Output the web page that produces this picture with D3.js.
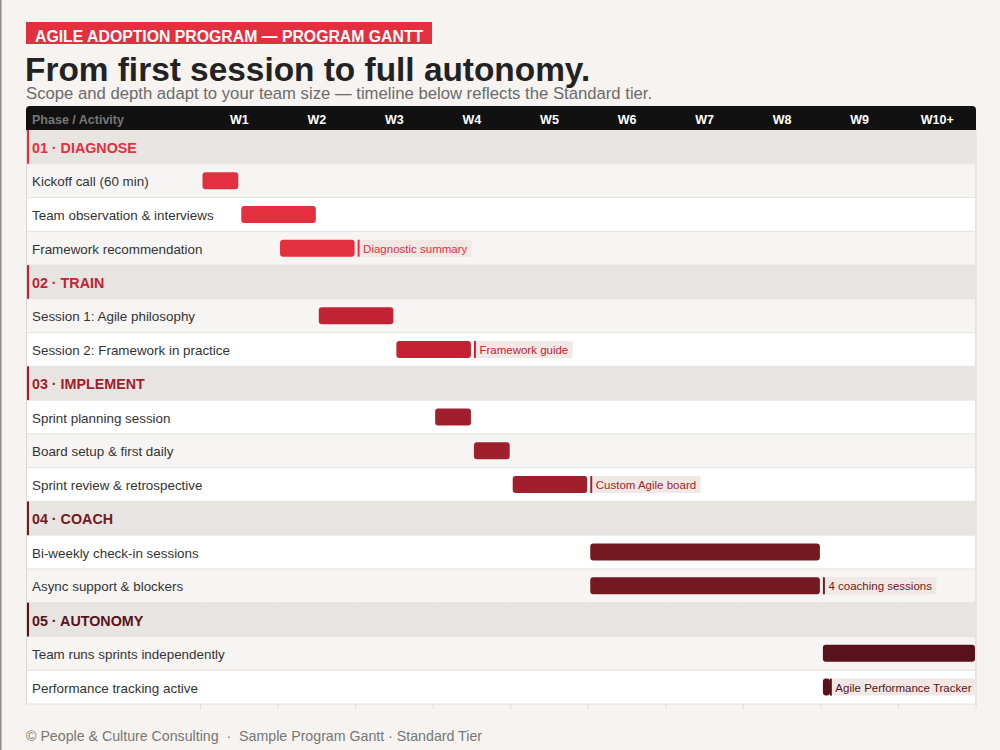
<!DOCTYPE html>
<html>
<head>
<meta charset="utf-8">
<script src="https://cdn.jsdelivr.net/npm/d3@7"></script>
<style>
  html, body { margin: 0; padding: 0; background: #f6f3f0; }
  body { font-family: "Liberation Sans", Arial, sans-serif; }
  svg { display: block; }
</style>
</head>
<body>
<svg id="chart" width="1000" height="750"></svg>
<script>
var weeks = ["W1", "W2", "W3", "W4", "W5", "W6", "W7", "W8", "W9", "W10+"];
var phases = ["01 · DIAGNOSE", "02 · TRAIN", "03 · IMPLEMENT", "04 · COACH", "05 · AUTONOMY"];
var phaseColors = ["#e3303f", "#c22334", "#9f1f2d", "#741920", "#5a121a"];

var activities = [
    "Kickoff call (60 min)",
    "Team observation & interviews",
    "Framework recommendation",
    "Session 1: Agile philosophy",
    "Session 2: Framework in practice",
    "Sprint planning session",
    "Board setup & first daily",
    "Sprint review & retrospective",
    "Bi-weekly check-in sessions",
    "Async support & blockers",
    "Team runs sprints independently",
    "Performance tracking active"
];
var activityPhase = [0, 0, 0, 1, 1, 2, 2, 2, 3, 3, 4, 4];
// start / end in weeks from the start of W1
var starts = [0, 0.5, 1, 1.5, 2.5, 3, 3.5, 4, 5, 5, 8, 8];
var ends = [0.5, 1.5, 2, 2.5, 3.5, 3.5, 4, 5, 8, 8, 10, 8.13];
var deliverables = ["", "", "Diagnostic summary", "", "Framework guide", "", "", "Custom Agile board", "", "4 coaching sessions", "", "Agile Performance Tracker"];

var svg = d3.select("#chart");
var left = 26, right = 976, labelW = 200.5;
var tableTop = 130, tableBottom = 704;

// flatten into rows: phase header followed by its activities
var rows = [];
phases.forEach(function(p, i) {
    rows.push({ type: "phase", phase: i, label: p });
    activities.forEach(function(a, j) {
        if (activityPhase[j] === i) rows.push({ type: "task", phase: i, label: a, idx: j });
    });
});
rows.forEach(function(r, i) { r.row = i; });

var x = d3.scaleLinear().domain([0, weeks.length]).range([labelW, right]);
var y = d3.scaleBand().domain(d3.range(rows.length)).range([tableTop, tableBottom]);
var wk = d3.scaleBand().domain(weeks).range([labelW, right]);

// page edge
svg.append("rect").attr("x", 0).attr("y", 0).attr("width", 1.5).attr("height", 750).attr("fill", "#8c8c8c");

// heading
svg.append("rect").attr("x", 26).attr("y", 22).attr("width", 406).attr("height", 22).attr("fill", "#e3303f");
svg.append("text").attr("x", 35).attr("y", 42)
    .attr("font-size", 15.8).attr("font-weight", "bold").attr("fill", "#fff")
    .text("AGILE ADOPTION PROGRAM — PROGRAM GANTT");
svg.append("text").attr("x", 25).attr("y", 81)
    .attr("font-size", 33.4).attr("font-weight", "bold").attr("fill", "#222")
    .text("From first session to full autonomy.");
svg.append("text").attr("x", 26).attr("y", 99)
    .attr("font-size", 16.7).attr("fill", "#6b6b6b")
    .text("Scope and depth adapt to your team size — timeline below reflects the Standard tier.");

// grid lines under the rows (they poke out below the table)
svg.append("g").selectAll("line").data(d3.range(weeks.length + 1)).enter().append("line")
    .attr("x1", function(d) { return x(d); }).attr("x2", function(d) { return x(d); })
    .attr("y1", tableTop).attr("y2", tableBottom + 5)
    .attr("stroke", "#e2ddd9").attr("stroke-width", 1);

// row backgrounds
var rowG = svg.append("g");
rowG.selectAll("rect.bg").data(rows).enter().append("rect")
    .attr("x", left).attr("y", function(d) { return y(d.row); })
    .attr("width", right - left).attr("height", y.bandwidth())
    .attr("fill", function(d) {
        if (d.type === "phase") return "#e8e4e1";
        return d.row % 2 ? "#f7f5f3" : "#ffffff";
    });
rowG.selectAll("line.sep").data(rows).enter().append("line")
    .attr("x1", left).attr("x2", right)
    .attr("y1", function(d) { return y(d.row) + y.bandwidth(); })
    .attr("y2", function(d) { return y(d.row) + y.bandwidth(); })
    .attr("stroke", "#e6e2de").attr("stroke-width", 1);
// table edges
svg.append("line").attr("x1", left + 0.5).attr("x2", left + 0.5).attr("y1", tableTop).attr("y2", tableBottom)
    .attr("stroke", "#dcd7d3");
svg.append("line").attr("x1", right - 0.5).attr("x2", right - 0.5).attr("y1", tableTop).attr("y2", tableBottom)
    .attr("stroke", "#e6e2de");

// phase accents + labels
var phaseRows = rows.filter(function(d) { return d.type === "phase"; });
rowG.selectAll("rect.accent").data(phaseRows).enter().append("rect")
    .attr("x", left).attr("y", function(d) { return y(d.row); })
    .attr("width", 3).attr("height", y.bandwidth())
    .attr("fill", function(d) { return phaseColors[d.phase]; });
rowG.selectAll("text.phase").data(phaseRows).enter().append("text")
    .attr("x", 32).attr("y", function(d) { return y(d.row) + y.bandwidth() / 2 + 6; })
    .attr("font-size", 14.3).attr("font-weight", "bold")
    .attr("fill", function(d) { return phaseColors[d.phase]; })
    .text(function(d) { return d.label; });

var taskRows = rows.filter(function(d) { return d.type === "task"; });
rowG.selectAll("text.task").data(taskRows).enter().append("text")
    .attr("x", 32).attr("y", function(d) { return y(d.row) + y.bandwidth() / 2 + 5.5; })
    .attr("font-size", 13.4).attr("fill", "#333")
    .text(function(d) { return d.label; });

// header bar
svg.append("path")
    .attr("d", "M" + left + "," + tableTop + "V110a4,4 0 0 1 4,-4H" + (right - 4) + "a4,4 0 0 1 4,4V" + tableTop + "Z")
    .attr("fill", "#111");
svg.append("text").attr("x", 32).attr("y", 124)
    .attr("font-size", 12.5).attr("font-weight", "bold").attr("fill", "#777")
    .text("Phase / Activity");
var axis = svg.append("g").attr("transform", "translate(0,124)")
    .call(d3.axisBottom(wk).tickSize(0).tickPadding(0));
axis.select(".domain").remove();
axis.selectAll("text")
    .attr("y", 0).attr("dy", 0)
    .attr("font-family", "Liberation Sans, Arial, sans-serif")
    .attr("font-size", 12.5).attr("font-weight", "bold").attr("fill", "#fff");

// bars
var barH = 17;
svg.append("clipPath").attr("id", "clip").append("rect")
    .attr("x", labelW).attr("y", tableTop).attr("width", right - labelW).attr("height", tableBottom - tableTop);
var barG = svg.append("g").attr("clip-path", "url(#clip)");
barG.selectAll("rect.bar").data(taskRows).enter().append("rect")
    .attr("x", function(d) { return x(starts[d.idx]) + 2; })
    .attr("y", function(d) { return y(d.row) + (y.bandwidth() - barH) / 2; })
    .attr("width", function(d) { return x(ends[d.idx]) - x(starts[d.idx]) - 3; })
    .attr("height", barH).attr("rx", 3)
    .attr("fill", function(d) { return phaseColors[d.phase]; });

// deliverable tags
var del = barG.selectAll("g.del").data(taskRows.filter(function(d) { return deliverables[d.idx]; }))
    .enter().append("g");
var box = del.append("rect").attr("x", 2).attr("y", 0).attr("height", barH).attr("rx", 2)
    .attr("fill", "#efe8e5");
del.append("rect").attr("x", 0).attr("y", 0).attr("width", 2).attr("height", barH)
    .attr("fill", function(d) { return phaseColors[d.phase]; });
var lbl = del.append("text").attr("x", 5.5).attr("y", barH / 2 + 4.5)
    .attr("font-size", 11.5)
    .attr("fill", function(d) { return phaseColors[d.phase]; })
    .text(function(d) { return deliverables[d.idx]; });
var boxW = lbl.nodes().map(function(n) { return n.getComputedTextLength() + 8; });
box.attr("width", function(d, i) { return boxW[i]; });
// keep each tag inside the timeline
del.attr("transform", function(d, i) {
    var tx = Math.min(x(ends[d.idx]) + 2, right - boxW[i] - 2);
    return "translate(" + tx + "," + (y(d.row) + (y.bandwidth() - barH) / 2) + ")";
});

// footer
svg.append("text").attr("x", 26).attr("y", 741)
    .attr("font-size", 14.2).attr("fill", "#777")
    .attr("xml:space", "preserve")
    .text("© People & Culture Consulting  ·  Sample Program Gantt · Standard Tier");
</script>
</body>
</html>
